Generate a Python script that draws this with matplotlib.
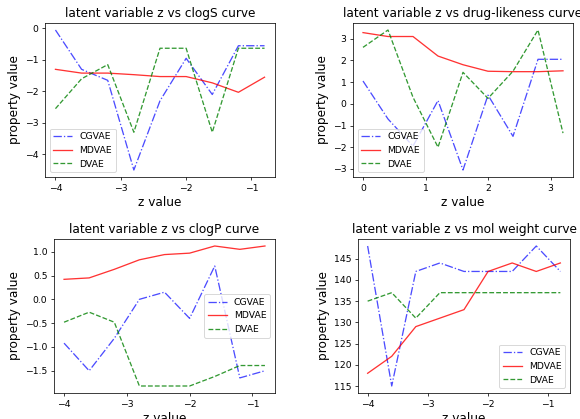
import matplotlib
matplotlib.use("Agg")
import matplotlib.pyplot as plt
from matplotlib.ticker import MultipleLocator, MaxNLocator

# z values
z_neg = [-4.0, -3.6, -3.2, -2.8, -2.4, -2.0, -1.6, -1.2, -0.8]
z_pos = [0.0, 0.4, 0.8, 1.2, 1.6, 2.0, 2.4, 2.8, 3.2]

# clogS
clogs_cgvae = [-0.05, -1.3, -1.65, -4.5, -2.3, -0.95, -2.1, -0.55, -0.55]
clogs_mdvae = [-1.3, -1.42, -1.42, -1.47, -1.53, -1.53, -1.73, -2.03, -1.55]
clogs_dvae = [-2.55, -1.6, -1.15, -3.3, -0.63, -0.63, -3.3, -0.63, -0.63]

# drug-likeness
drug_cgvae = [1.05, -0.7, -1.95, 0.15, -3.05, 0.4, -1.5, 2.05, 2.05]
drug_mdvae = [3.28, 3.1, 3.1, 2.2, 1.8, 1.5, 1.48, 1.48, 1.52]
drug_dvae = [2.6, 3.4, 0.3, -2.0, 1.45, 0.25, 1.5, 3.4, -1.35]

# clogP
clogp_cgvae = [-0.92, -1.5, -0.82, 0.0, 0.15, -0.4, 0.7, -1.65, -1.5]
clogp_mdvae = [0.42, 0.45, 0.63, 0.83, 0.94, 0.97, 1.12, 1.05, 1.12]
clogp_dvae = [-0.48, -0.27, -0.48, -1.82, -1.82, -1.82, -1.62, -1.39, -1.39]

# mol weight
mw_cgvae = [148, 115, 142, 144, 142, 142, 142, 148, 142]
mw_mdvae = [118, 122, 129, 131, 133, 142, 144, 142, 144]
mw_dvae = [135, 137, 131, 137, 137, 137, 137, 137, 137]

panels = [
    ("clogS", z_neg, clogs_cgvae, clogs_mdvae, clogs_dvae, "lower left"),
    ("drug-likeness", z_pos, drug_cgvae, drug_mdvae, drug_dvae, "lower left"),
    ("clogP", z_neg, clogp_cgvae, clogp_mdvae, clogp_dvae, "center right"),
    ("mol weight", z_neg, mw_cgvae, mw_mdvae, mw_dvae, "lower right"),
]

# axes boxes in pixels (left, top, right, bottom)
W, H = 580, 419
boxes = [(45, 23, 275, 177), (353, 23, 573, 177),
         (54, 239, 275, 393), (358, 239, 570, 393)]

DPI = 67
fig = plt.figure(figsize=(W / DPI, H / DPI), dpi=DPI)

for (name, z, cg, md, dv, loc), (l, t, r, b) in zip(panels, boxes):
    ax = fig.add_axes([l / W, (H - b) / H, (r - l) / W, (b - t) / H])
    ax.plot(z, cg, 'b-.', alpha=0.7, linewidth=1.4, label='CGVAE')
    ax.plot(z, md, 'r-', alpha=0.8, linewidth=1.4, label='MDVAE')
    ax.plot(z, dv, 'g--', alpha=0.8, linewidth=1.4, label='DVAE')
    ax.set_title('latent variable z vs %s curve' % name, fontsize=13)
    ax.set_xlabel('z value', fontsize=13)
    ax.set_ylabel('property value', fontsize=13)
    ax.tick_params(labelsize=10)
    ax.xaxis.set_major_locator(MultipleLocator(1))
    ax.yaxis.set_major_locator(MaxNLocator(nbins=8, steps=[1, 2, 2.5, 5, 10]))
    ax.legend(loc=loc, fontsize=10)

plt.savefig('out.png', dpi=DPI)
